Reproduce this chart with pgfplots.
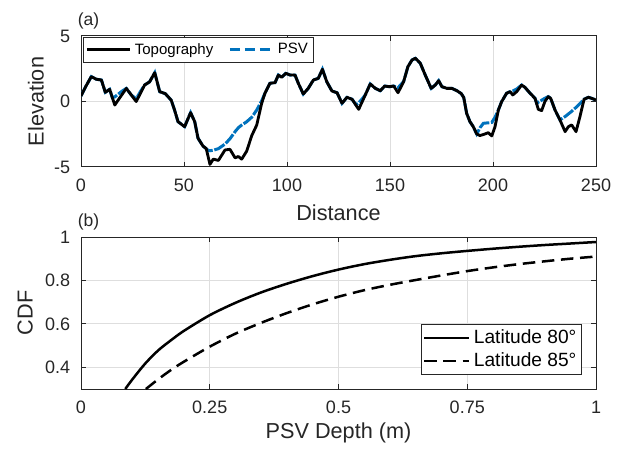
\documentclass[border=0pt]{standalone}
\usepackage{pgfplots}
\pgfplotsset{compat=1.18}
\usepackage{fontspec}
\setmainfont{Liberation Sans}
\definecolor{mblue}{rgb}{0,0.447,0.741}
\definecolor{axgray}{rgb}{0.15,0.15,0.15}
\definecolor{gridgray}{rgb}{0.87,0.87,0.87}

\pgfplotsset{
  mstyle/.style={
    scale only axis, width=309pt,
    axis line style={axgray, line width=0.6pt},
    tick style={axgray, line width=0.6pt},
    major tick length=3pt,
    tick align=inside,
    xtick pos=both, ytick pos=both,
    grid=major,
    major grid style={gridgray, line width=0.6pt},
    ticklabel style={font=\fontsize{10.8}{12}\selectfont, text=axgray},
    /pgf/number format/assume math mode=true,
    label style={font=\fontsize{13}{15}\selectfont, text=axgray},
    xticklabel style={yshift=-3.5pt},
    yticklabel style={xshift=-3pt},
    every axis title shift=0pt,
    title style={font=\fontsize{10.5}{12}\selectfont, text=axgray, anchor=center, yshift=9.3pt},
    legend image code/.code={\draw[#1] (0pt,0pt) -- (26pt,0pt);},
  }
}

\begin{document}
\begin{tikzpicture}
\useasboundingbox (-48.6pt,-169.2pt) rectangle (322.2pt,100.2pt);

% (a) topography and PSV
\begin{axis}[mstyle, height=78.6pt, at={(0,0)}, anchor=south west,
  xmin=0, xmax=250, ymin=-5, ymax=5,
  xtick={0,50,100,150,200,250}, ytick={-5,0,5},
  xlabel={Distance}, ylabel={Elevation},
  xlabel style={at={(axis description cs:0.5,-0.351)}, anchor=center},
  ylabel style={at={(axis description cs:-0.0874,0.5)}, anchor=center},
  title={(a)}, title style={at={(axis description cs:0.0146,1)}},
  legend style={at={(axis description cs:0.003,0.992)}, anchor=north west,
    draw=axgray, font=\fontsize{9}{10}\selectfont,
    inner sep=1.5pt, /tikz/every even column/.append style={column sep=7pt}},
  legend columns=2,
]
\addplot[mblue, line width=1.8pt, dash pattern=on 7pt off 1pt, forget plot] table {
0 0.42
2.5 1.2
5.0 1.9
7.4 1.7
9.9 1.64
11.8 0.7
13.9 0.93
15.2 0.3
16.4 0.35
18.0 0.55
20.0 0.8
22.0 1.0
24.4 0.5
26.8 0.2
28.8 0.75
30.9 1.26
33.3 1.5
35.8 2.2
38.2 0.75
40.9 0.6
43.8 0.1
45.5 -0.7
47.1 -1.54
50.3 -1.92
53.2 -0.85
55.2 -1.54
56.8 -2.8
59.2 -3.4
60.8 -3.6
61.8 -3.75
62.6 -3.76
64.2 -3.72
66.7 -3.6
69.9 -3.25
72.3 -2.85
74.8 -2.3
76.4 -2.0
78.0 -1.8
80.4 -1.55
82.9 -1.2
85.3 -0.65
87.7 0.05
89.3 0.63
91.7 1.39
94.2 1.44
95.8 2.02
97.4 1.85
99.4 2.15
101.5 2.02
103.9 2.02
105.5 1.39
107.9 0.57
110.3 1.0
112.8 1.64
115.2 1.77
117.2 2.46
119.3 1.51
121.8 0.8
124.3 0.67
126.7 -0.14
129.1 0.32
131.6 0.17
133.5 -0.25
134.8 -0.1
136.5 0.2
138.0 0.5
140.4 1.34
142.9 1.0
145.3 0.82
147.4 1.18
149.7 1.13
151.8 1.18
153.9 1.05
155.3 1.3
156.6 1.51
158.7 2.66
160.7 3.17
162.3 3.3
164.7 2.92
167.1 2.02
170.0 1.0
172.0 1.26
173.6 1.59
175.2 1.13
177.7 1.0
180.1 1.0
182.5 0.82
184.6 0.6
185.8 0.3
187.2 -0.9
188.8 -1.54
190.4 -1.92
192.1 -2.48
193.7 -2.0
195.3 -1.67
196.1 -1.65
197.7 -1.63
199.4 -1.6
201.0 -1.2
202.6 -0.65
204.2 -0.01
206.6 0.63
208.3 0.75
209.6 0.8
211.5 0.95
213.9 1.26
215.5 1.08
218.0 0.63
220.4 0.24
221.3 -0.15
222.0 -0.05
223.6 0.1
225.2 0.25
226.8 0.37
228.0 0.24
230.1 -0.65
232.5 -1.41
235.0 -1.15
236.6 -0.95
238.2 -0.75
240.3 -0.45
242.2 -0.15
244.2 0.17
246.3 0.32
247.9 0.24
250 0.11
};
\addplot[black, line width=1.7pt, line join=round] table {
0 0.42
2.5 1.2
5.0 1.9
7.4 1.7
9.9 1.64
11.8 0.7
13.9 0.93
16.4 -0.27
18.0 0.1
20.0 0.55
22.0 1.0
24.4 0.5
26.8 0.0
28.8 0.6
30.9 1.26
33.3 1.5
35.8 2.2
38.2 0.75
40.9 0.6
43.8 0.1
45.5 -0.7
47.1 -1.54
50.3 -1.92
53.2 -0.85
55.2 -1.54
56.8 -2.8
59.2 -3.4
60.8 -3.6
62.6 -4.8
64.2 -4.4
66.7 -4.5
69.9 -3.7
72.3 -3.65
74.8 -4.3
76.4 -4.2
78.0 -4.4
80.4 -3.8
82.9 -2.6
85.3 -1.8
87.7 -0.14
89.3 0.63
91.7 1.39
94.2 1.44
95.8 2.02
97.4 1.85
99.4 2.15
101.5 2.02
103.9 2.02
105.5 1.39
107.9 0.57
110.3 1.0
112.8 1.64
115.2 1.77
117.2 2.46
119.3 1.51
121.8 0.8
124.3 0.67
126.7 -0.14
129.1 0.32
131.6 0.17
134.8 -0.6
138.0 0.5
140.4 1.34
142.9 1.0
145.3 0.82
147.4 1.18
149.7 1.13
151.8 1.18
153.9 0.67
156.6 1.51
158.7 2.66
160.7 3.17
162.3 3.3
164.7 2.92
167.1 2.02
170.0 1.0
172.0 1.26
173.6 1.59
175.2 1.13
177.7 1.0
180.1 1.0
182.5 0.82
184.6 0.6
185.8 0.3
187.2 -0.9
188.8 -1.54
190.4 -1.92
192.1 -2.48
193.7 -2.6
196.1 -2.48
197.7 -2.38
199.4 -2.63
201.0 -1.92
202.6 -0.65
204.2 -0.01
206.6 0.63
208.3 0.75
209.6 0.5
211.5 0.75
213.9 1.26
215.5 1.08
218.0 0.63
220.4 0.24
222.0 -0.6
223.6 -0.7
225.2 0.0
226.8 0.37
228.0 0.24
230.1 -0.65
232.5 -1.41
235.0 -2.3
236.6 -1.92
238.2 -1.79
240.3 -2.3
242.2 -1.16
244.2 0.17
246.3 0.32
247.9 0.24
250 0.11
};
\addlegendentry{Topography}
\addlegendimage{mblue, line width=1.8pt, dash pattern=on 6pt off 3pt}
\addlegendentry{PSV}
\end{axis}

% (b) CDF of PSV depth
\begin{axis}[mstyle, height=91.2pt, at={(0,-133.2pt)}, anchor=south west,
  xmin=0, xmax=1, ymin=0.3, ymax=1,
  xtick={0,0.25,0.5,0.75,1}, ytick={0.4,0.6,0.8,1},
  xlabel={PSV Depth (m)}, ylabel={CDF},
  xlabel style={at={(axis description cs:0.5,-0.289)}, anchor=center},
  ylabel style={at={(axis description cs:-0.1085,0.5)}, anchor=center},
  title={(b)}, title style={at={(axis description cs:0.0146,1)}},
  legend style={at={(axis description cs:0.973,0.092)}, anchor=south east,
    draw=axgray, font=\fontsize{11.5}{13}\selectfont,
    inner sep=1.2pt},
  legend cell align=left,
  legend image code/.code={\draw[#1, line width=1.6pt] (0pt,0pt) -- (27pt,0pt);},
]
\addplot[black, line width=1.5pt, smooth, tension=0.5] table {
0.086 0.30
0.10 0.345
0.125 0.418
0.15 0.478
0.175 0.525
0.20 0.568
0.25 0.64
0.30 0.697
0.35 0.745
0.40 0.785
0.45 0.82
0.50 0.85
0.55 0.875
0.60 0.895
0.65 0.912
0.70 0.925
0.75 0.936
0.80 0.946
0.85 0.955
0.90 0.963
0.95 0.970
1.00 0.977
};
\addlegendentry{Latitude 80°}
\addplot[black, line width=1.5pt, dash pattern=on 7.5pt off 4pt, smooth, tension=0.5] table {
0.126 0.30
0.15 0.345
0.175 0.388
0.20 0.426
0.25 0.495
0.30 0.555
0.35 0.605
0.40 0.65
0.45 0.69
0.50 0.725
0.55 0.755
0.60 0.78
0.65 0.802
0.70 0.823
0.75 0.843
0.80 0.86
0.85 0.875
0.90 0.888
0.95 0.90
1.00 0.91
};
\addlegendentry{Latitude 85°}
\end{axis}
\end{tikzpicture}
\end{document}
